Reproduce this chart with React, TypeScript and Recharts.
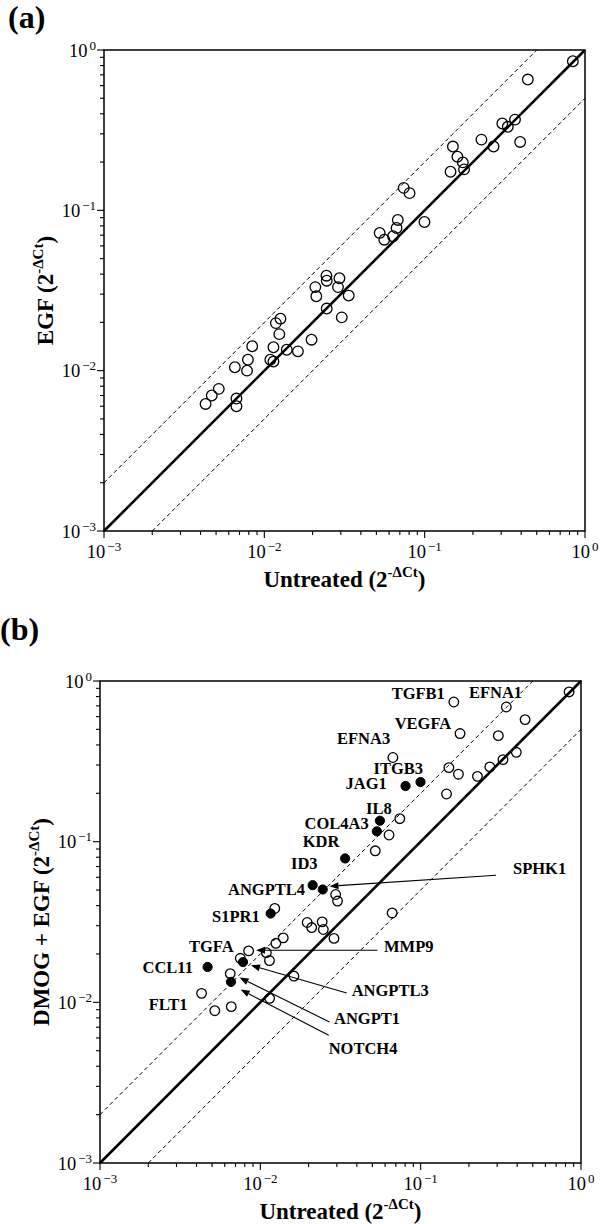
import React from 'react';
import { ScatterChart, Scatter, XAxis, YAxis, ReferenceLine, ReferenceArea, Label } from 'recharts';

const FONT = '"Liberation Serif", "Times New Roman", Times, serif';

// ---------- Panel (a): Untreated vs EGF ----------
const untreatedA = [0.84, 0.44, 0.305, 0.33, 0.366, 0.394, 0.226, 0.269, 0.150, 0.160, 0.173, 0.176, 0.145, 0.074, 0.0805, 0.0997, 0.068, 0.0668, 0.0635, 0.0524, 0.056, 0.0244, 0.0245, 0.0294, 0.0208, 0.0288, 0.0336, 0.0211, 0.0245, 0.0304, 0.0118, 0.0126, 0.0124, 0.0197, 0.0114, 0.0138, 0.0162, 0.0084, 0.0109, 0.0114, 0.0079, 0.00655, 0.0078, 0.0052, 0.0047, 0.0043, 0.0067, 0.0067];
const egfA = [0.851, 0.654, 0.348, 0.332, 0.368, 0.267, 0.276, 0.250, 0.250, 0.216, 0.199, 0.180, 0.174, 0.138, 0.128, 0.0846, 0.0871, 0.0776, 0.0689, 0.0723, 0.0656, 0.0391, 0.0364, 0.0377, 0.0332, 0.0332, 0.0294, 0.0291, 0.0244, 0.0215, 0.0198, 0.0211, 0.0169, 0.0156, 0.0140, 0.0135, 0.0132, 0.0142, 0.0117, 0.0114, 0.0117, 0.0105, 0.0100, 0.0077, 0.0070, 0.0062, 0.0067, 0.0060];

// ---------- Panel (b): Untreated vs DMOG + EGF ----------
const untreatedBOpen = [0.843, 0.161, 0.342, 0.448, 0.176, 0.305, 0.395, 0.326, 0.270, 0.226, 0.0671, 0.150, 0.172, 0.145, 0.0741, 0.0635, 0.0521, 0.0295, 0.0303, 0.0123, 0.0664, 0.0196, 0.0209, 0.0243, 0.0247, 0.0288, 0.0139, 0.0125, 0.00845, 0.0109, 0.0075, 0.0114, 0.00649, 0.0162, 0.0043, 0.01143, 0.0052, 0.00659];
const dmogBOpen = [0.855, 0.740, 0.689, 0.575, 0.471, 0.457, 0.360, 0.324, 0.292, 0.255, 0.334, 0.289, 0.263, 0.198, 0.139, 0.110, 0.0877, 0.0469, 0.0427, 0.0384, 0.036, 0.0314, 0.0292, 0.0317, 0.0284, 0.0250, 0.0252, 0.0233, 0.0209, 0.0204, 0.0188, 0.0182, 0.0151, 0.01457, 0.01137, 0.01059, 0.00887, 0.0094];
const untreatedBFilled = [0.0998, 0.0805, 0.0557, 0.0533, 0.0338, 0.0212, 0.0245, 0.0116, 0.0078, 0.00469, 0.00656];
const dmogBFilled = [0.235, 0.222, 0.135, 0.116, 0.0786, 0.0536, 0.0504, 0.0357, 0.0178, 0.0166, 0.0134];

// gene labels (anchor = left end of baseline, in data units)
const geneNames = ['TGFB1', 'EFNA1', 'VEGFA', 'EFNA3', 'ITGB3', 'JAG1', 'IL8', 'COL4A3', 'KDR', 'ID3', 'ANGPTL4', 'SPHK1', 'S1PR1', 'TGFA', 'MMP9', 'CCL11', 'ANGPTL3', 'FLT1', 'ANGPT1', 'NOTCH4'];
const geneLabelX = [0.0659, 0.2001, 0.0688, 0.03007, 0.05087, 0.03402, 0.0456, 0.01888, 0.01838, 0.01553, 0.006284, 0.3766, 0.004995, 0.003591, 0.05907, 0.001841, 0.03714, 0.002012, 0.0288, 0.0267];
const geneLabelY = [0.777, 0.784, 0.5055, 0.4036, 0.2653, 0.214, 0.1481, 0.1206, 0.0926, 0.0673, 0.04637, 0.0626, 0.0316, 0.02057, 0.02057, 0.01523, 0.0109, 0.009012, 0.007374, 0.004797];

// arrows (tail -> head, data units)
const arrowGenes = ['SPHK1', 'MMP9', 'ANGPTL3', 'ANGPT1', 'NOTCH4'];
const arrowTailX = [0.2951, 0.05373, 0.03457, 0.02701, 0.0267];
const arrowTailY = [0.06176, 0.02108, 0.01143, 0.007543, 0.006233];
const arrowHeadX = [0.02701, 0.009397, 0.008746, 0.007415, 0.007534];
const arrowHeadY = [0.05278, 0.02108, 0.017, 0.01426, 0.012];

// axes
const DOMAIN: [number, number] = [0.001, 1];
const majorTicks = [0.001, 0.01, 0.1, 1];
const minorMultipliers = [2, 3, 4, 5, 6, 7, 8, 9];
const foldRatios = [1, 2, 0.5];

const allTicks: number[] = [];
majorTicks.forEach((m, i) => {
  allTicks.push(m);
  if (i < majorTicks.length - 1) minorMultipliers.forEach((k) => allTicks.push(+(m * k).toPrecision(6)));
});

const toPts = (xs: number[], ys: number[]) => xs.map((x, i) => ({ x, y: ys[i] }));
const ptsA = toPts(untreatedA, egfA);
const ptsBOpen = toPts(untreatedBOpen, dmogBOpen);
const ptsBFilled = toPts(untreatedBFilled, dmogBFilled);
const labelsB = geneNames.map((g, i) => ({ x: geneLabelX[i], y: geneLabelY[i], gene: g }));

const isMajor = (v: number) => Math.abs(Math.log10(v) - Math.round(Math.log10(v))) < 1e-6;
const expText = (v: number) => {
  const e = Math.round(Math.log10(v));
  return e < 0 ? '\u2212' + Math.abs(e) : String(e);
};

const XTick = (props: any) => {
  const { x, y, payload } = props;
  const v = payload.value;
  const major = isMajor(v);
  return (
    <g>
      <line x1={x} y1={y} x2={x} y2={y + (major ? 7 : 4)} stroke="#000" strokeWidth={1.1} />
      {major && (
        <text x={x} y={y + 26.5} textAnchor="middle" fontFamily={FONT} fontSize={18.5} fill="#000">
          10<tspan dy={-7} dx={2} fontSize={13}>{expText(v)}</tspan>
        </text>
      )}
    </g>
  );
};

const YTick = (props: any) => {
  const { x, y, payload } = props;
  const v = payload.value;
  const major = isMajor(v);
  return (
    <g>
      <line x1={x} y1={y} x2={x - (major ? 7 : 4)} y2={y} stroke="#000" strokeWidth={1.1} />
      {major && (
        <text x={x - 8} y={y + 6.5} textAnchor="end" fontFamily={FONT} fontSize={18.5} fill="#000">
          10<tspan dy={-7} dx={2} fontSize={13}>{expText(v)}</tspan>
        </text>
      )}
    </g>
  );
};

const XTitle = (props: any) => {
  const vb = props.viewBox || {};
  return (
    <text x={vb.x + vb.width / 2} y={vb.y + 56} textAnchor="middle" fontFamily={FONT} fontWeight="bold" fontSize={23} fill="#000">
      Untreated (2<tspan dy={-10} fontSize={15}>-ΔCt</tspan><tspan dy={10}>)</tspan>
    </text>
  );
};

const makeYTitle = (prefix: string) => (props: any) => {
  const vb = props.viewBox || {};
  const tx = vb.x + vb.width - 51;
  const ty = vb.y + vb.height / 2;
  return (
    <text x={tx} y={ty} textAnchor="middle" transform={`rotate(-90, ${tx}, ${ty})`} fontFamily={FONT} fontWeight="bold" fontSize={23} fill="#000">
      {prefix} (2<tspan dy={-10} fontSize={15}>-ΔCt</tspan><tspan dy={10}>)</tspan>
    </text>
  );
};

const openCircle = (r: number) => (p: any) => (
  <circle cx={p.cx} cy={p.cy} r={r} fill="none" stroke="#000" strokeWidth={1.3} />
);
const filledCircle = (r: number) => (p: any) => (
  <circle cx={p.cx} cy={p.cy} r={r} fill="#000" stroke="#000" strokeWidth={1} />
);
const geneText = (p: any) => (
  <text x={p.cx} y={p.cy} fontFamily={FONT} fontWeight="bold" fontSize={16.5} fill="#000">
    {(p.payload && p.payload.gene) || p.gene}
  </text>
);

const arrowShape = (p: any) => {
  const { x1, y1, x2, y2 } = p;
  const ang = Math.atan2(y2 - y1, x2 - x1);
  const L = 9;
  const W = 3.5;
  const c = Math.cos(ang);
  const s = Math.sin(ang);
  const bx = x2 - L * c;
  const by = y2 - L * s;
  return (
    <g>
      <line x1={x1} y1={y1} x2={bx} y2={by} stroke="#000" strokeWidth={1.1} />
      <polygon points={`${x2},${y2} ${bx + W * s},${by - W * c} ${bx - W * s},${by + W * c}`} fill="#000" />
    </g>
  );
};

const foldSegment = (ratio: number) => {
  // y = ratio * x, clipped to the square domain
  const lo = DOMAIN[0];
  const hi = DOMAIN[1];
  const x0 = Math.max(lo, lo / ratio);
  const x1 = Math.min(hi, hi / ratio);
  return [
    { x: x0, y: x0 * ratio },
    { x: x1, y: x1 * ratio },
  ];
};

const renderGuides = () =>
  foldRatios.map((r) => (
    <ReferenceLine
      key={'fold' + r}
      segment={foldSegment(r)}
      stroke="#000"
      strokeWidth={r === 1 ? 2.6 : 1}
      strokeDasharray={r === 1 ? undefined : '4 3'}
      ifOverflow="visible"
    />
  ));

const Axes = (yPrefix: string) => [
  <XAxis
    key="x"
    dataKey="x"
    type="number"
    scale="log"
    domain={DOMAIN}
    allowDataOverflow
    ticks={allTicks}
    interval={0}
    tick={<XTick />}
    tickLine={false}
    axisLine={false}
    tickSize={0}
    tickMargin={0}
    height={40}
  >
    <Label content={<XTitle />} />
  </XAxis>,
  <YAxis
    key="y"
    dataKey="y"
    type="number"
    scale="log"
    domain={DOMAIN}
    allowDataOverflow
    ticks={allTicks}
    interval={0}
    tick={<YTick />}
    tickLine={false}
    axisLine={false}
    tickSize={0}
    tickMargin={0}
    width={60}
  >
    <Label content={makeYTitle(yPrefix)} />
  </YAxis>,
];

export default function App() {
  return (
    <div style={{ position: 'absolute', left: 0, top: 0, width: 600, height: 1224, background: '#fff' }}>
      <div style={{ position: 'absolute', left: 0, top: 0 }}>
        <ScatterChart width={600} height={600} margin={{ top: 50, right: 15, bottom: 29, left: 44 }}>
          {Axes('EGF')}
          {renderGuides()}
          <Scatter data={ptsA} shape={openCircle(5.3)} isAnimationActive={false} />
          <ReferenceArea x1={DOMAIN[0]} x2={DOMAIN[1]} y1={DOMAIN[0]} y2={DOMAIN[1]} fill="none" stroke="#000" strokeWidth={1.5} ifOverflow="visible" />
        </ScatterChart>
      </div>
      <div style={{ position: 'absolute', left: 0, top: 620 }}>
        <ScatterChart width={600} height={604} margin={{ top: 61, right: 19, bottom: 21, left: 40 }}>
          {Axes('DMOG + EGF')}
          {renderGuides()}
          {arrowGenes.map((g, i) => (
            <ReferenceLine
              key={'arr' + g}
              segment={[
                { x: arrowTailX[i], y: arrowTailY[i] },
                { x: arrowHeadX[i], y: arrowHeadY[i] },
              ]}
              shape={arrowShape}
              ifOverflow="visible"
            />
          ))}
          <Scatter data={ptsBOpen} shape={openCircle(4.8)} isAnimationActive={false} />
          <Scatter data={ptsBFilled} shape={filledCircle(4.6)} isAnimationActive={false} />
          <Scatter data={labelsB} shape={geneText} isAnimationActive={false} />
          <ReferenceArea x1={DOMAIN[0]} x2={DOMAIN[1]} y1={DOMAIN[0]} y2={DOMAIN[1]} fill="none" stroke="#000" strokeWidth={1.5} ifOverflow="visible" />
        </ScatterChart>
      </div>
      <svg width={600} height={1224} style={{ position: 'absolute', left: 0, top: 0, pointerEvents: 'none' }}>
        <text x={8} y={28} fontFamily={FONT} fontWeight="bold" fontSize={32} fill="#000">(a)</text>
        <text x={0} y={640} fontFamily={FONT} fontWeight="bold" fontSize={32} fill="#000">(b)</text>
      </svg>
    </div>
  );
}
